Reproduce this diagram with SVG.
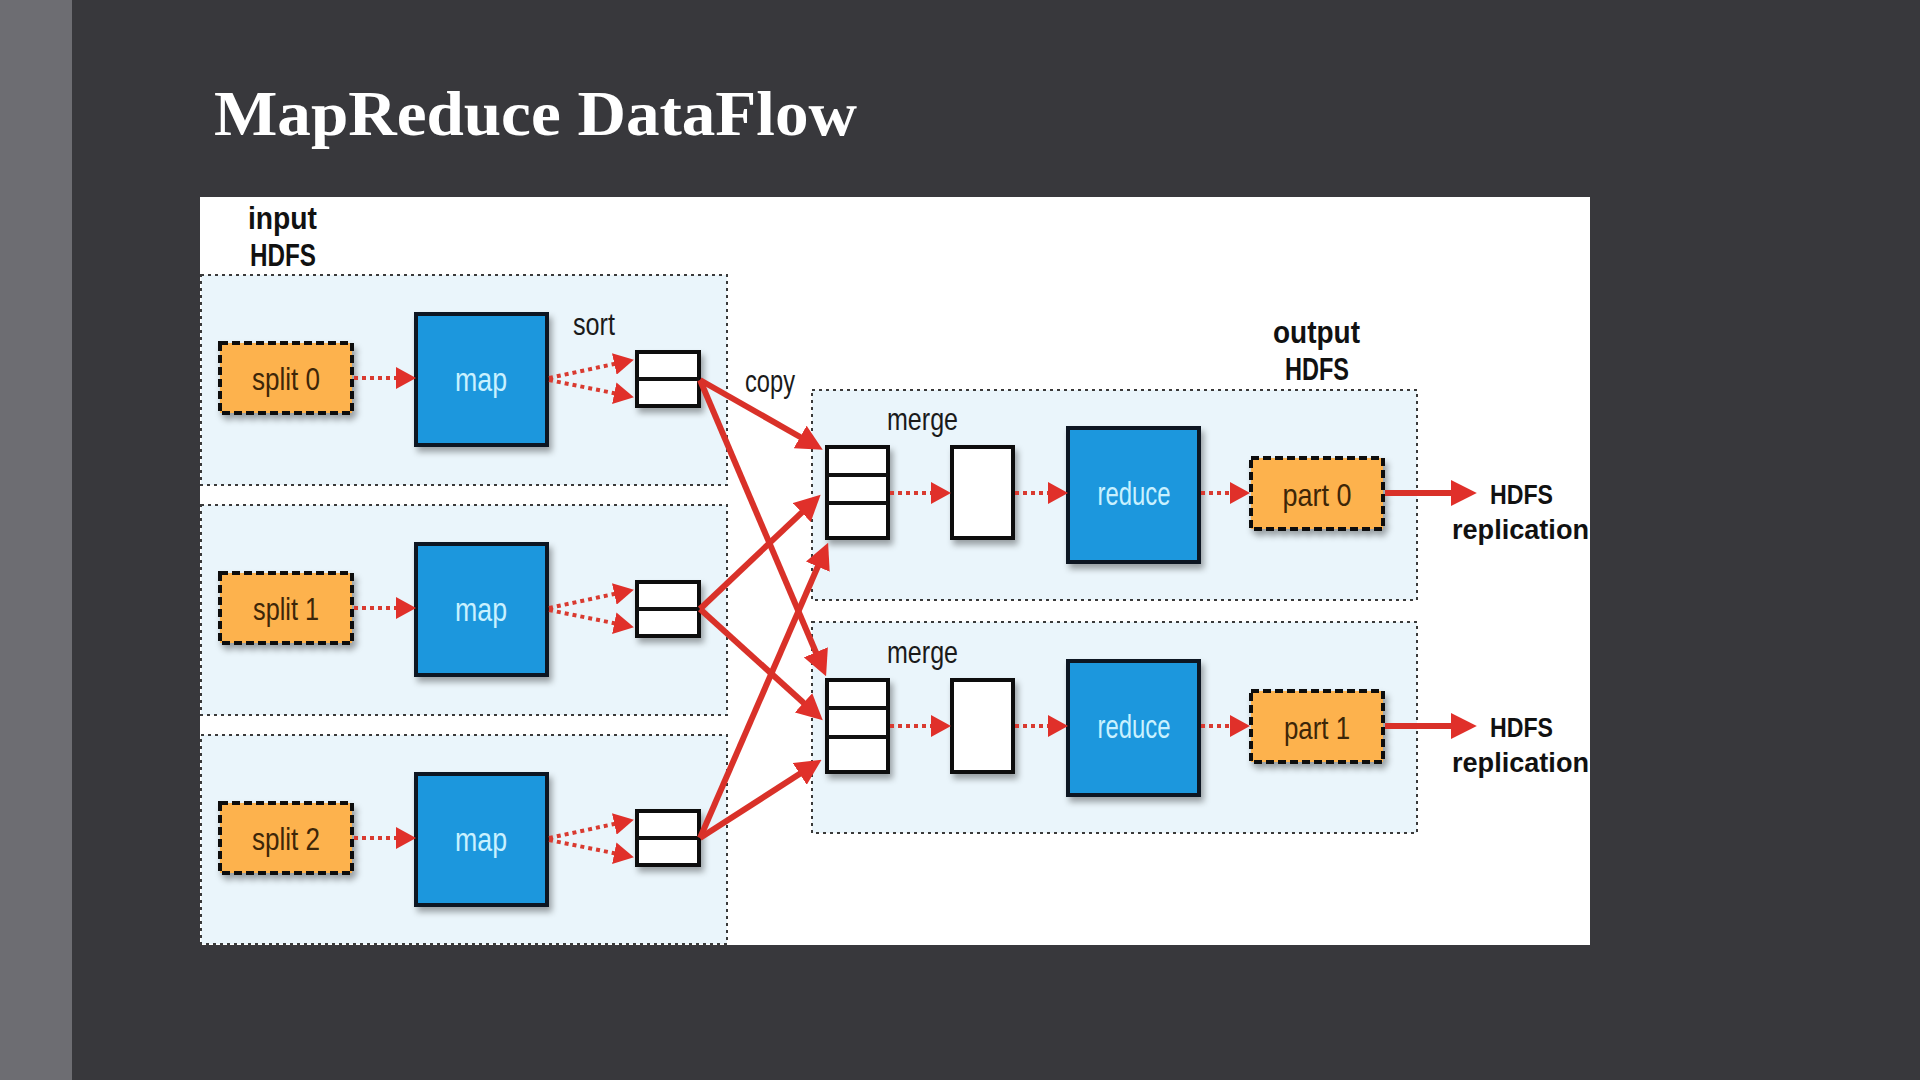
<svg xmlns="http://www.w3.org/2000/svg" width="1920" height="1080" viewBox="0 0 1920 1080">
<style>
.grp{fill:#eaf5fb;stroke:#3a3a3a;stroke-width:2;stroke-dasharray:3 4}
.split{fill:#fdb24e;stroke:#111;stroke-width:4;stroke-dasharray:8 4}
.blue{fill:#1a97dd;stroke:#0e1622;stroke-width:4}
.buf{fill:#fff;stroke:#111;stroke-width:4}
.lbl{font-family:"Liberation Sans",Arial,sans-serif;font-size:32px;fill:#1a1a1a}
.btxt{font-family:"Liberation Sans",Arial,sans-serif;font-size:33px;fill:#c9f1ff;text-anchor:middle}
.otxt{font-family:"Liberation Sans",Arial,sans-serif;font-size:32px;fill:#3d2608;text-anchor:middle}
.bold{font-family:"Liberation Sans",Arial,sans-serif;font-size:31px;font-weight:bold;fill:#111}
.bsm{font-family:"Liberation Sans",Arial,sans-serif;font-size:27px;font-weight:bold;fill:#111}
.dot{stroke:#d93a30;stroke-width:4;stroke-dasharray:4 4;fill:none}
.solid{stroke:#d93129;stroke-width:6;fill:none}
</style>
<defs>
<filter id="sh" x="-20%" y="-20%" width="150%" height="150%">
<feDropShadow dx="3" dy="5" stdDeviation="3" flood-color="#000" flood-opacity="0.35"/>
</filter>
<marker id="ad" viewBox="0 0 10 10" markerUnits="userSpaceOnUse" markerWidth="20" markerHeight="22" refX="7" refY="5" orient="auto" preserveAspectRatio="none">
<path d="M0,0 L10,5 L0,10 z" fill="#e0302a"/>
</marker>
<marker id="as" viewBox="0 0 10 10" markerUnits="userSpaceOnUse" markerWidth="26" markerHeight="26" refX="7" refY="5" orient="auto" preserveAspectRatio="none">
<path d="M0,0 L10,5 L0,10 z" fill="#e0302a"/>
</marker>
</defs>
<rect x="0" y="0" width="1920" height="1080" fill="#38383c"/>
<rect x="0" y="0" width="72" height="1080" fill="#6d6d72"/>
<text x="214" y="135" font-family="Liberation Serif,Times New Roman,serif" font-size="64" font-weight="bold" fill="#ffffff" textLength="643" lengthAdjust="spacingAndGlyphs">MapReduce DataFlow</text>
<rect x="200" y="197" width="1390" height="748" fill="#ffffff"/>

<g id="input-hdfs">
<text class="bold" x="248" y="229" textLength="69" lengthAdjust="spacingAndGlyphs">input</text>
<text class="bold" x="250" y="266" textLength="66" lengthAdjust="spacingAndGlyphs">HDFS</text>
</g>
<g id="map-group-0"><rect class="grp" x="201" y="275" width="526" height="210"/></g>
<g id="map-group-1"><rect class="grp" x="201" y="505" width="526" height="210"/></g>
<g id="map-group-2"><rect class="grp" x="201" y="735" width="526" height="209"/></g>
<g id="reduce-group-0"><rect class="grp" x="812" y="390" width="605" height="210"/></g>
<g id="reduce-group-1"><rect class="grp" x="812" y="622" width="605" height="211"/></g>

<g id="split-0"><rect class="split" x="220" y="343" width="132" height="70" filter="url(#sh)"/><text class="otxt" x="286" y="390" textLength="68" lengthAdjust="spacingAndGlyphs">split 0</text></g>
<g id="split-1"><rect class="split" x="220" y="573" width="132" height="70" filter="url(#sh)"/><text class="otxt" x="286" y="620" textLength="66" lengthAdjust="spacingAndGlyphs">split 1</text></g>
<g id="split-2"><rect class="split" x="220" y="803" width="132" height="70" filter="url(#sh)"/><text class="otxt" x="286" y="850" textLength="68" lengthAdjust="spacingAndGlyphs">split 2</text></g>

<g id="map-0"><rect class="blue" x="416" y="314" width="131" height="131" filter="url(#sh)"/><text class="btxt" x="481" y="391" textLength="52" lengthAdjust="spacingAndGlyphs">map</text></g>
<g id="map-1"><rect class="blue" x="416" y="544" width="131" height="131" filter="url(#sh)"/><text class="btxt" x="481" y="621" textLength="52" lengthAdjust="spacingAndGlyphs">map</text></g>
<g id="map-2"><rect class="blue" x="416" y="774" width="131" height="131" filter="url(#sh)"/><text class="btxt" x="481" y="851" textLength="52" lengthAdjust="spacingAndGlyphs">map</text></g>

<g id="sort-label"><text class="lbl" x="573" y="335" textLength="42" lengthAdjust="spacingAndGlyphs">sort</text></g>
<g id="buffer-0"><rect class="buf" x="637" y="352" width="62" height="54" filter="url(#sh)"/><line x1="637" y1="379" x2="699" y2="379" stroke="#111" stroke-width="4"/></g>
<g id="buffer-1"><rect class="buf" x="637" y="582" width="62" height="54" filter="url(#sh)"/><line x1="637" y1="609" x2="699" y2="609" stroke="#111" stroke-width="4"/></g>
<g id="buffer-2"><rect class="buf" x="637" y="811" width="62" height="54" filter="url(#sh)"/><line x1="637" y1="838" x2="699" y2="838" stroke="#111" stroke-width="4"/></g>

<g id="copy-label"><text class="lbl" x="745" y="392" textLength="50" lengthAdjust="spacingAndGlyphs">copy</text></g>
<g id="output-hdfs">
<text class="bold" x="1273" y="343" textLength="87" lengthAdjust="spacingAndGlyphs">output</text>
<text class="bold" x="1285" y="380" textLength="64" lengthAdjust="spacingAndGlyphs">HDFS</text>
</g>

<g id="merge-label-0"><text class="lbl" x="887" y="430" textLength="71" lengthAdjust="spacingAndGlyphs">merge</text></g>
<g id="merge-label-1"><text class="lbl" x="887" y="663" textLength="71" lengthAdjust="spacingAndGlyphs">merge</text></g>

<g id="merge-in-0"><rect class="buf" x="827" y="447" width="61" height="91" filter="url(#sh)"/><line x1="827" y1="475" x2="888" y2="475" stroke="#111" stroke-width="4"/><line x1="827" y1="503" x2="888" y2="503" stroke="#111" stroke-width="4"/></g>
<g id="merge-in-1"><rect class="buf" x="827" y="680" width="61" height="92" filter="url(#sh)"/><line x1="827" y1="708" x2="888" y2="708" stroke="#111" stroke-width="4"/><line x1="827" y1="737" x2="888" y2="737" stroke="#111" stroke-width="4"/></g>
<g id="merge-out-0"><rect class="buf" x="952" y="447" width="61" height="91" filter="url(#sh)"/></g>
<g id="merge-out-1"><rect class="buf" x="952" y="680" width="61" height="92" filter="url(#sh)"/></g>

<g id="reduce-0"><rect class="blue" x="1068" y="428" width="131" height="134" filter="url(#sh)"/><text class="btxt" x="1134" y="505" textLength="73" lengthAdjust="spacingAndGlyphs">reduce</text></g>
<g id="reduce-1"><rect class="blue" x="1068" y="661" width="131" height="134" filter="url(#sh)"/><text class="btxt" x="1134" y="738" textLength="73" lengthAdjust="spacingAndGlyphs">reduce</text></g>

<g id="part-0"><rect class="split" x="1251" y="458" width="132" height="71" filter="url(#sh)"/><text class="otxt" x="1317" y="506" textLength="69" lengthAdjust="spacingAndGlyphs">part 0</text></g>
<g id="part-1"><rect class="split" x="1251" y="691" width="132" height="71" filter="url(#sh)"/><text class="otxt" x="1317" y="739" textLength="66" lengthAdjust="spacingAndGlyphs">part 1</text></g>

<g id="hdfs-replication-0">
<text class="bsm" x="1490" y="504" textLength="63" lengthAdjust="spacingAndGlyphs">HDFS</text>
<text class="bsm" x="1452" y="539" textLength="137" lengthAdjust="spacingAndGlyphs">replication</text>
</g>
<g id="hdfs-replication-1">
<text class="bsm" x="1490" y="737" textLength="63" lengthAdjust="spacingAndGlyphs">HDFS</text>
<text class="bsm" x="1452" y="772" textLength="137" lengthAdjust="spacingAndGlyphs">replication</text>
</g>

<g id="connectors">
<line class="dot" x1="354" y1="378" x2="410" y2="378" marker-end="url(#ad)"/>
<line class="dot" x1="354" y1="608" x2="410" y2="608" marker-end="url(#ad)"/>
<line class="dot" x1="354" y1="838" x2="410" y2="838" marker-end="url(#ad)"/>

<line class="dot" x1="549" y1="378" x2="628" y2="361" marker-end="url(#ad)"/>
<line class="dot" x1="549" y1="380" x2="628" y2="396" marker-end="url(#ad)"/>
<line class="dot" x1="549" y1="608" x2="628" y2="591" marker-end="url(#ad)"/>
<line class="dot" x1="549" y1="610" x2="628" y2="626" marker-end="url(#ad)"/>
<line class="dot" x1="549" y1="838" x2="628" y2="821" marker-end="url(#ad)"/>
<line class="dot" x1="549" y1="840" x2="628" y2="856" marker-end="url(#ad)"/>

<line class="solid" x1="700" y1="380" x2="816" y2="446" marker-end="url(#as)"/>
<line class="solid" x1="700" y1="380" x2="823" y2="669" marker-end="url(#as)"/>
<line class="solid" x1="700" y1="609" x2="815" y2="500" marker-end="url(#as)"/>
<line class="solid" x1="700" y1="609" x2="817" y2="715" marker-end="url(#as)"/>
<line class="solid" x1="700" y1="838" x2="825" y2="550" marker-end="url(#as)"/>
<line class="solid" x1="700" y1="838" x2="815" y2="764" marker-end="url(#as)"/>

<line class="dot" x1="890" y1="493" x2="945" y2="493" marker-end="url(#ad)"/>
<line class="dot" x1="1015" y1="493" x2="1062" y2="493" marker-end="url(#ad)"/>
<line class="dot" x1="1201" y1="493" x2="1244" y2="493" marker-end="url(#ad)"/>
<line class="solid" x1="1385" y1="493" x2="1469" y2="493" marker-end="url(#as)"/>

<line class="dot" x1="890" y1="726" x2="945" y2="726" marker-end="url(#ad)"/>
<line class="dot" x1="1015" y1="726" x2="1062" y2="726" marker-end="url(#ad)"/>
<line class="dot" x1="1201" y1="726" x2="1244" y2="726" marker-end="url(#ad)"/>
<line class="solid" x1="1385" y1="726" x2="1469" y2="726" marker-end="url(#as)"/>
</g>
</svg>
